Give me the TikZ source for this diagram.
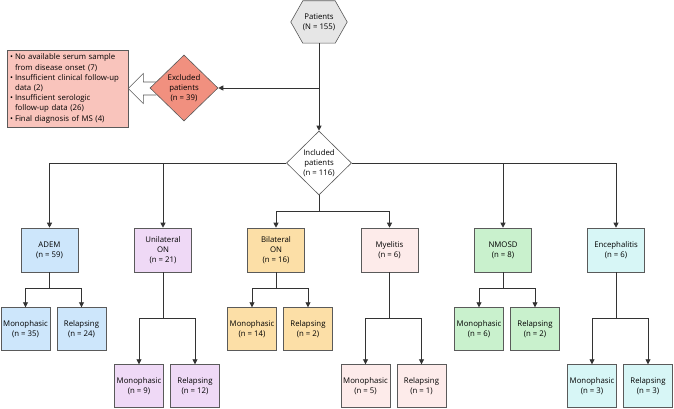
\documentclass[tikz,border=0pt]{standalone}
\usepackage{fontspec}
\setmainfont{Open Sans}
\usetikzlibrary{arrows.meta,positioning,shapes.geometric,calc,backgrounds}
\definecolor{bordgrey}{HTML}{5A5A5A}
\definecolor{linegrey}{HTML}{333333}
\definecolor{patfill}{HTML}{E6E6E6}
\definecolor{exclfill}{HTML}{F1907F}
\definecolor{whyfill}{HTML}{F9C4BC}
\definecolor{ademfill}{HTML}{CDE6FB}
\definecolor{uonfill}{HTML}{EFD9F6}
\definecolor{bonfill}{HTML}{FCDFA7}
\definecolor{myefill}{HTML}{FDEBEA}
\definecolor{nmofill}{HTML}{C9F1CD}
\definecolor{encfill}{HTML}{D7F6F6}
\tikzset{
  txt/.style    = {font=\fontsize{7.8}{10.2}\selectfont, align=center},
  box/.style    = {rectangle, txt, draw=bordgrey, line width=0.6pt,
                   minimum width=57pt, minimum height=44pt, inner sep=1pt},
  subbox/.style = {box, minimum width=49pt, minimum height=43pt},
  dia/.style    = {diamond, aspect=1, txt, draw=bordgrey, line width=0.6pt, inner sep=0pt},
  ar/.style     = {-{Triangle[length=5pt,width=5pt]}, draw=linegrey, line width=0.8pt},
  ln/.style     = {draw=linegrey, line width=0.8pt}
}
\begin{document}
\begin{tikzpicture}[x=1pt,y=-1pt]
    \useasboundingbox (0,0) rectangle (674,409);
    % top of the chart
    \node[txt, minimum width=56pt, minimum height=42pt, inner sep=0pt] (pat) at (319,22) {Patients\\(N = 155)};
    \begin{scope}[on background layer]
      \draw[draw=bordgrey, fill=patfill, line width=0.6pt] (pat.west) -- ($(pat.north west)+(12,0)$)
        -- ($(pat.north east)+(-12,0)$) -- (pat.east) -- ($(pat.south east)+(-12,0)$)
        -- ($(pat.south west)+(12,0)$) -- cycle;
    \end{scope}
    \node[dia, fill=white, minimum width=65pt, minimum height=64pt] (incl) at (319,163) {Included\\patients\\(n = 116)};
    \node[box, fill=whyfill, minimum width=121pt, minimum height=77pt, text width=115pt,
          align=left, inner sep=3pt] (why) at (67.5,88.5)
      {\makebox[5pt][l]{•}No available serum sample\\
       \hspace*{5pt}from disease onset (7)\\
       \makebox[5pt][l]{•}Insufficient clinical follow-up\\
       \hspace*{5pt}data (2)\\
       \makebox[5pt][l]{•}Insufficient serologic\\
       \hspace*{5pt}follow-up data (26)\\
       \makebox[5pt][l]{•}Final diagnosis of MS (4)};
    \draw[draw=bordgrey, fill=white, line width=0.6pt] ($(why.east)+(28,-6.5)$) -- ($(why.east)+(15,-6.5)$)
      -- ($(why.east)+(15,-15)$) -- (why.east) -- ($(why.east)+(15,15)$)
      -- ($(why.east)+(15,6.5)$) -- ($(why.east)+(28,6.5)$);
    \node[dia, fill=exclfill, minimum width=68pt, minimum height=66pt] (excl) at (184,88) {Excluded\\patients\\(n = 39)};

    % disease groups
    \node[box, fill=ademfill] (adem) at (49.5,250) {ADEM\\(n = 59)};
    \node[box, fill=uonfill] (uon) at (163,250) {Unilateral\\ON\\(n = 21)};
    \node[box, fill=bonfill] (bon) at (276,250) {Bilateral\\ON\\(n = 16)};
    \node[box, fill=myefill] (mye) at (389.5,250) {Myelitis\\(n = 6)};
    \node[box, fill=nmofill] (nmo) at (503,250) {NMOSD\\(n = 8)};
    \node[box, fill=encfill] (enc) at (616,250) {Encephalitis\\(n = 6)};

    % course
    \node[subbox, fill=ademfill, below=35pt of adem, xshift=-24pt] (adem1) {Monophasic\\(n = 35)};
    \node[subbox, fill=ademfill, below=35pt of adem, xshift=32pt] (adem2) {Relapsing\\(n = 24)};
    \node[subbox, fill=uonfill, below=92pt of uon, xshift=-24pt] (uon1) {Monophasic\\(n = 9)};
    \node[subbox, fill=uonfill, below=92pt of uon, xshift=32pt] (uon2) {Relapsing\\(n = 12)};
    \node[subbox, fill=bonfill, below=35pt of bon, xshift=-24pt] (bon1) {Monophasic\\(n = 14)};
    \node[subbox, fill=bonfill, below=35pt of bon, xshift=32pt] (bon2) {Relapsing\\(n = 2)};
    \node[subbox, fill=myefill, below=92pt of mye, xshift=-24pt] (mye1) {Monophasic\\(n = 5)};
    \node[subbox, fill=myefill, below=92pt of mye, xshift=32pt] (mye2) {Relapsing\\(n = 1)};
    \node[subbox, fill=nmofill, below=35pt of nmo, xshift=-24pt] (nmo1) {Monophasic\\(n = 6)};
    \node[subbox, fill=nmofill, below=35pt of nmo, xshift=32pt] (nmo2) {Relapsing\\(n = 2)};
    \node[subbox, fill=encfill, below=92pt of enc, xshift=-24pt] (enc1) {Monophasic\\(n = 3)};
    \node[subbox, fill=encfill, below=92pt of enc, xshift=32pt] (enc2) {Relapsing\\(n = 3)};

    \coordinate (split) at ($(incl.south)+(0,16)$);
    \draw[ar] (pat.south) -- (incl.north);  \draw[ar] (pat.south |- excl.east) -- (excl.east);
    \draw[ar] (incl.west) -| (adem.north);  \draw[ar] (uon.north |- incl.west) -- (uon.north);
    \draw[ar] (incl.east) -| (enc.north);   \draw[ar] (nmo.north |- incl.east) -- (nmo.north);
    \draw[ln] (incl.south) -- (split);
    \draw[ar] (split) -| (bon.north);  \draw[ar] (split) -| (mye.north);

    \draw[ar] (adem.south) -- ++(0,16) -| (adem1.north);  \draw[ar] (adem.south) -- ++(0,16) -| (adem2.north);
    \draw[ar] (uon.south) -- ++(0,46) -| (uon1.north);    \draw[ar] (uon.south) -- ++(0,46) -| (uon2.north);
    \draw[ar] (bon.south) -- ++(0,16) -| (bon1.north);    \draw[ar] (bon.south) -- ++(0,16) -| (bon2.north);
    \draw[ar] (mye.south) -- ++(0,46) -| (mye1.north);    \draw[ar] (mye.south) -- ++(0,46) -| (mye2.north);
    \draw[ar] (nmo.south) -- ++(0,16) -| (nmo1.north);    \draw[ar] (nmo.south) -- ++(0,16) -| (nmo2.north);
    \draw[ar] (enc.south) -- ++(0,46) -| (enc1.north);    \draw[ar] (enc.south) -- ++(0,46) -| (enc2.north);
  \end{tikzpicture}
\end{document}
